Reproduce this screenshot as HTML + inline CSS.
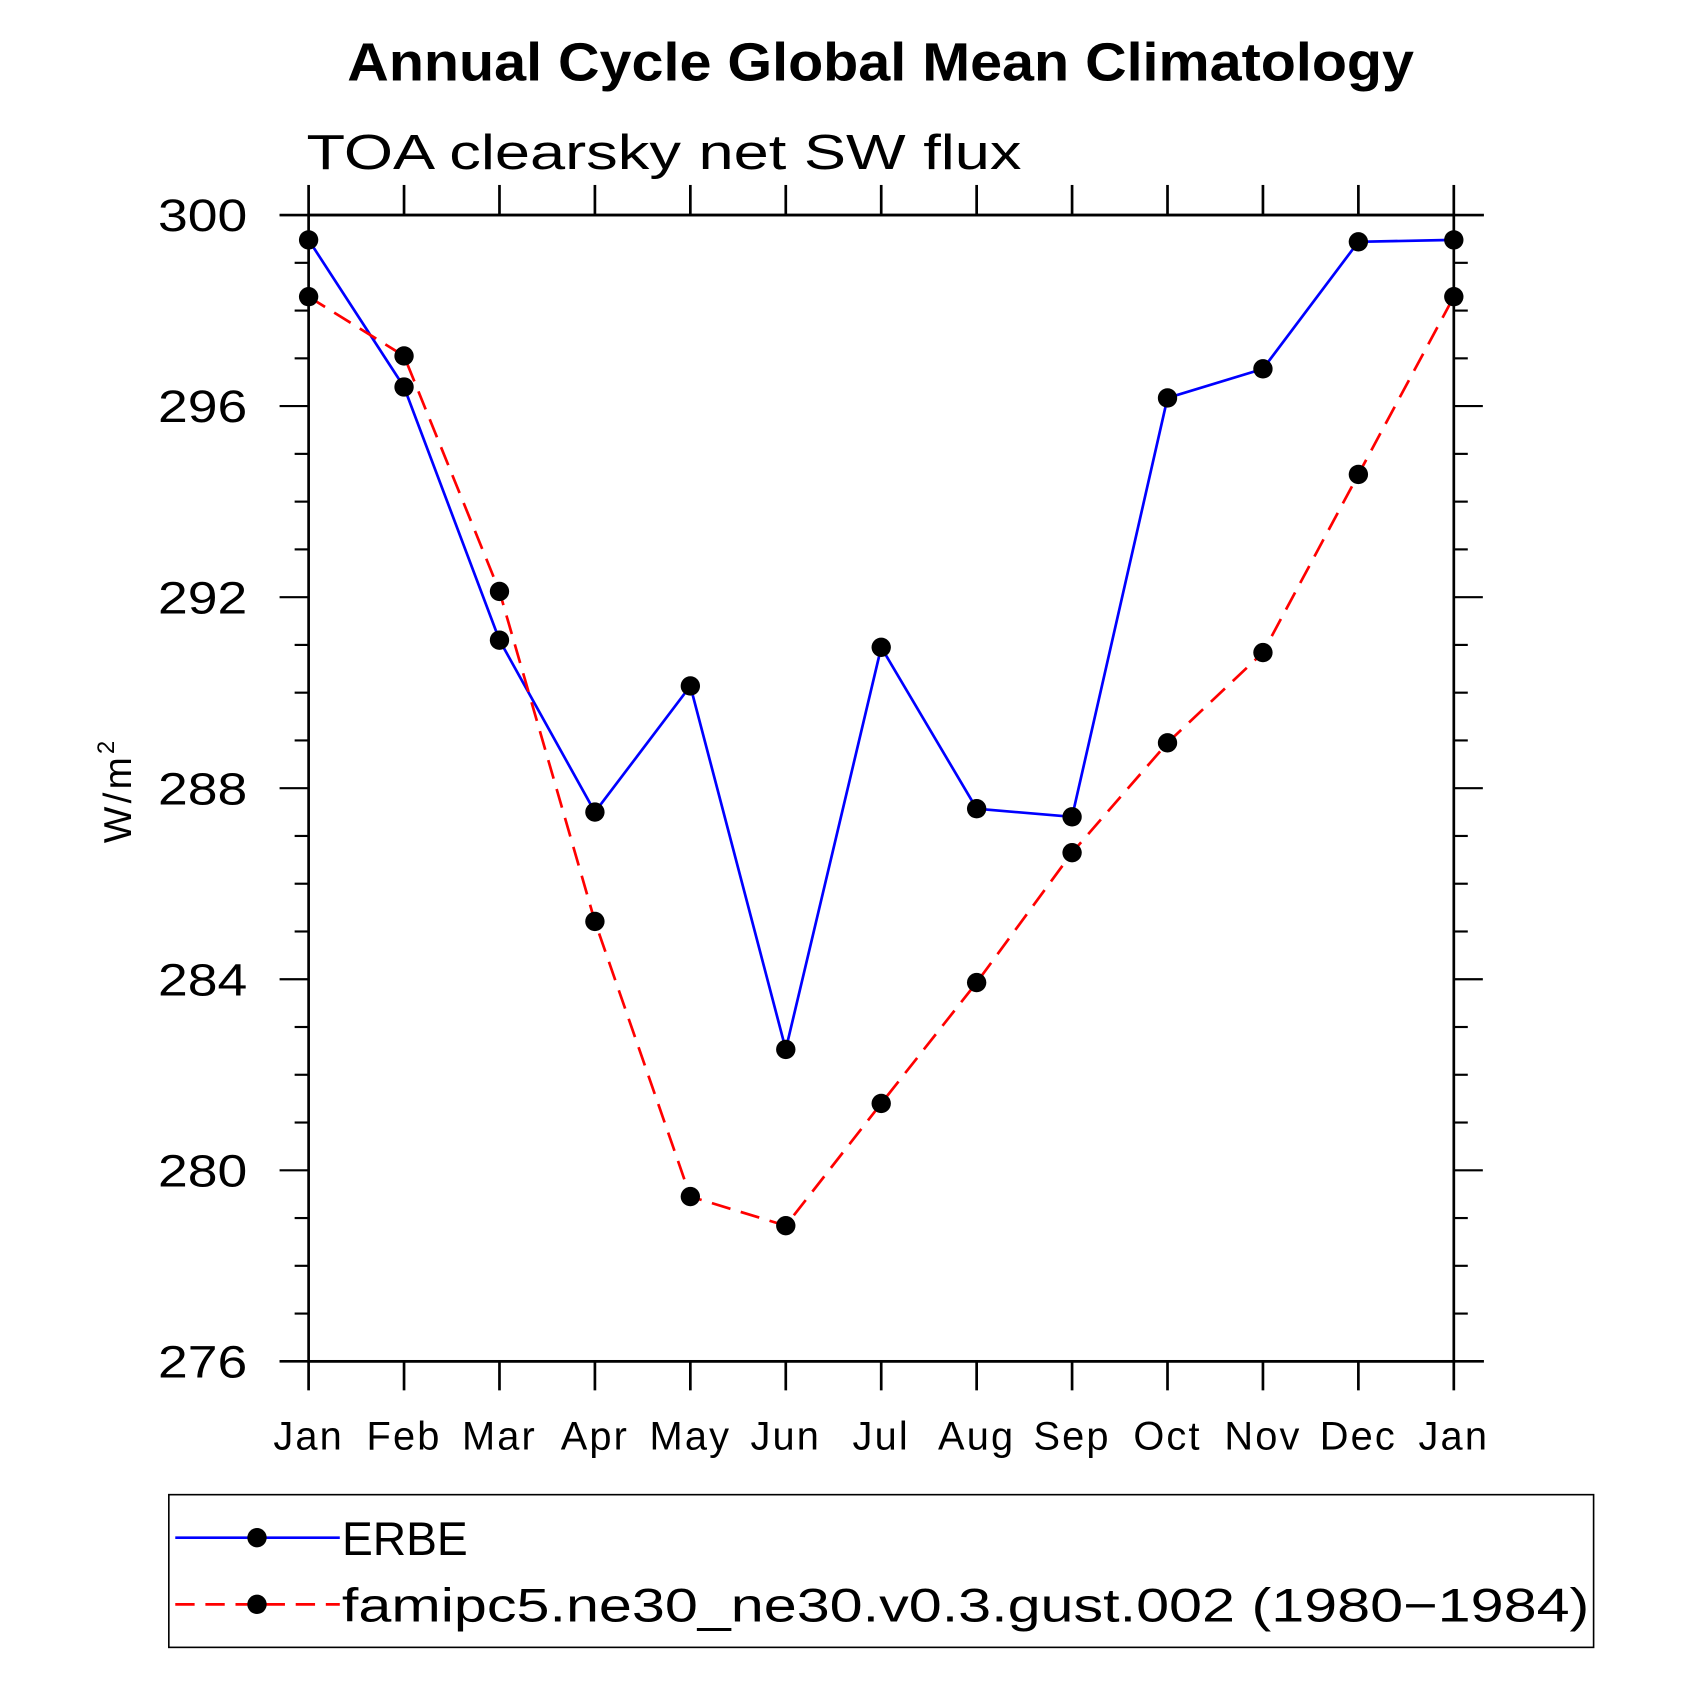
<!DOCTYPE html>
<html><head><meta charset="utf-8"><style>html,body{margin:0;padding:0;background:#fff}svg{display:block}</style></head>
<body>
<svg id="chart" width="1685" height="1685" viewBox="0 0 1567 1567" xmlns="http://www.w3.org/2000/svg" font-family="Liberation Sans, sans-serif">
<text x="323" y="75" font-size="50" font-weight="bold" textLength="992" lengthAdjust="spacingAndGlyphs">Annual Cycle Global Mean Climatology</text>
<text x="285" y="157" font-size="46" textLength="665" lengthAdjust="spacingAndGlyphs">TOA clearsky net SW flux</text>
<text transform="translate(122,735) rotate(-90)" text-anchor="middle" font-size="36" letter-spacing="3">W/m<tspan dy="-16" font-size="22">2</tspan></text>
<g id="axes"></g>
<g id="series"></g>
<g>
<rect x="157" y="1390" width="1325" height="142" fill="none" stroke="#000" stroke-width="1.5"/>
<line x1="163" y1="1430" x2="316" y2="1430" stroke="#0000ff" stroke-width="2.5"/>
<circle cx="239" cy="1430" r="9"/>
<text x="318" y="1446" font-size="44" textLength="117" lengthAdjust="spacingAndGlyphs">ERBE</text>
<line x1="163" y1="1492" x2="316" y2="1492" stroke="#ff0000" stroke-width="2.5" stroke-dasharray="18,10"/>
<circle cx="239" cy="1492" r="9"/>
<text x="318" y="1508" font-size="44" textLength="1160" lengthAdjust="spacingAndGlyphs">famipc5.ne30_ne30.v0.3.gust.002 (1980−1984)</text>
</g>
</svg>
<script>
const months = ["Jan","Feb","Mar","Apr","May","Jun","Jul","Aug","Sep","Oct","Nov","Dec","Jan"];
const erbeValues = [299.48,296.4,291.1,287.5,290.14,282.53,290.95,287.57,287.4,296.17,296.78,299.44,299.48];
const modelValues = [298.29,297.05,292.12,285.21,279.45,278.84,281.4,283.93,286.65,288.95,290.84,294.57,298.29];
const yTicks = [276,280,284,288,292,296,300];
const NS="http://www.w3.org/2000/svg";
const X0=287,X1=1352,Y0=1266,Y1=200,YMIN=276,YMAX=300;
const xs=i=>X0+(X1-X0)*i/(months.length-1);
const ys=v=>Y0-(v-YMIN)/(YMAX-YMIN)*(Y0-Y1);
function mk(tag,attrs,parent){const e=document.createElementNS(NS,tag);for(const k in attrs)e.setAttribute(k,attrs[k]);parent.appendChild(e);return e;}
const axes=document.getElementById('axes');
const frame=mk('rect',{x:X0,y:Y1,width:X1-X0,height:Y0-Y1,fill:'none',stroke:'#000','stroke-width':2.5},axes);


mk('line',{x1:260,y1:Y1,x2:1380,y2:Y1,stroke:'#000','stroke-width':2.5},axes);
mk('line',{x1:260,y1:Y0,x2:1380,y2:Y0,stroke:'#000','stroke-width':2.5},axes);
for(let v=YMIN;v<=YMAX;v+=1){
  const y=ys(v);
  const major=(v%4===0);
  const len=major?27:13;
  mk('line',{x1:X0-len,y1:y,x2:X0,y2:y,stroke:'#000','stroke-width':2},axes);
  mk('line',{x1:X1,y1:y,x2:X1+len,y2:y,stroke:'#000','stroke-width':2},axes);
}
yTicks.forEach(v=>{
  const t=mk('text',{x:147,y:ys(v)+15,'font-size':42,textLength:83,lengthAdjust:'spacingAndGlyphs'},axes);
  t.textContent=v;
  
  
});
months.forEach((m,i)=>{
  const x=xs(i);
  mk('line',{x1:x,y1:172,x2:x,y2:Y1,stroke:'#000','stroke-width':2.5},axes);
  mk('line',{x1:x,y1:Y0,x2:x,y2:1293,stroke:'#000','stroke-width':2.5},axes);
  const t=mk('text',{x:x,y:1348,'text-anchor':'middle','font-size':37,'letter-spacing':2},axes);
  t.textContent=m;
  
  
});
const ser=document.getElementById('series');
function drawSeries(vals,color,dash,name){
  const p=mk('polyline',{points:vals.map((v,i)=>xs(i)+','+ys(v)).join(' '),fill:'none',stroke:color,'stroke-width':2.5},ser);
  if(dash)p.setAttribute('stroke-dasharray',dash);
  
  
  vals.forEach((v,i)=>{
    const c=mk('circle',{cx:xs(i),cy:ys(v),r:9,fill:'#000'},ser);
    
    
  });
}
drawSeries(erbeValues,'#0000ff',null,'erbe');
drawSeries(modelValues,'#ff0000','18,10','model');
</script>
</body></html>
